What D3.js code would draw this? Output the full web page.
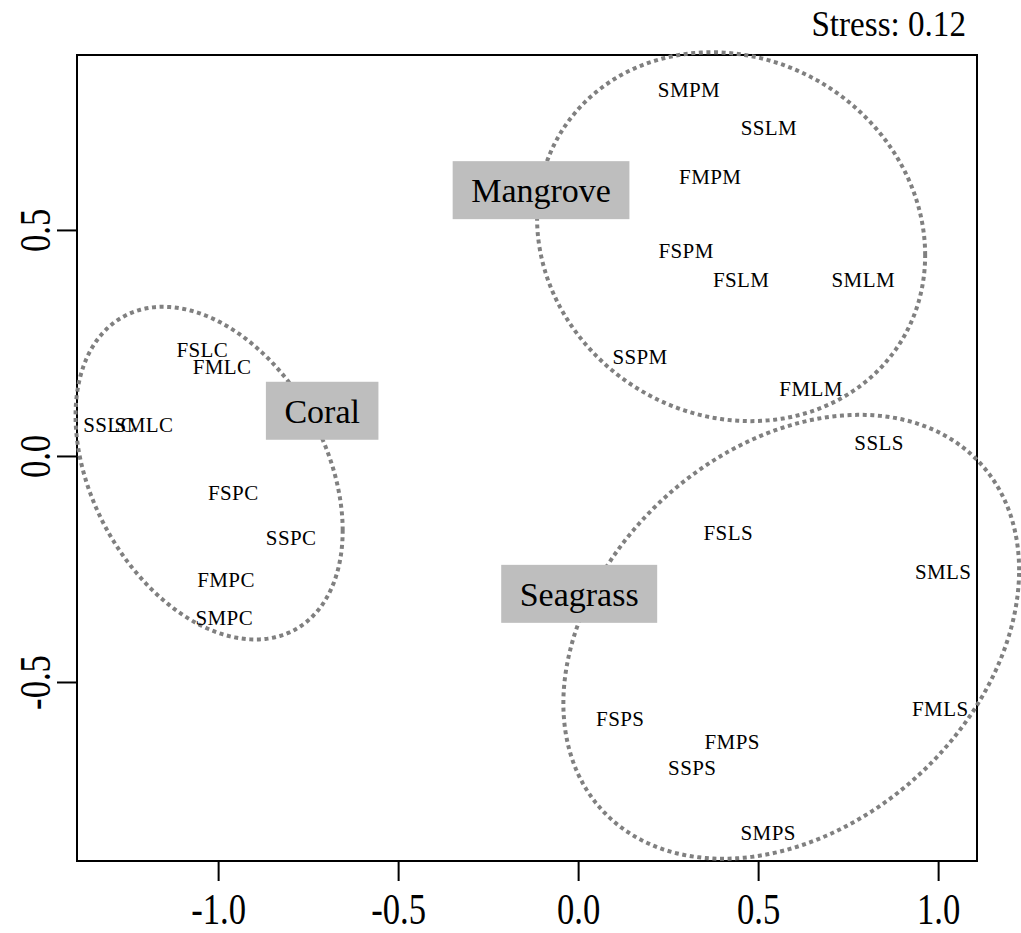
<!DOCTYPE html>
<html><head><meta charset="utf-8">
<script src="https://cdn.jsdelivr.net/npm/d3@7"></script>
<style>body{margin:0;background:#fff} svg{display:block}</style>
</head><body><svg id="c" width="1021" height="933"></svg>
<script>
// ---- data ----
const siteLabels = ["SMPM","SSLM","FMPM","FSPM","FSLM","SMLM","SSPM","FMLM",
                    "FSLC","FMLC","SSLC","SMLC","FSPC","SSPC","FMPC","SMPC",
                    "SSLS","FSLS","SMLS","FMLS","FSPS","FMPS","SSPS","SMPS"];
const nmds1 = [0.308,0.530,0.367,0.300,0.453,0.792,0.172,0.647,
               -1.044,-0.989,-1.303,-1.206,-0.958,-0.797,-0.978,-0.983,
               0.836,0.417,1.014,1.006,0.117,0.428,0.317,0.528];
const nmds2 = [0.810,0.726,0.617,0.454,0.389,0.389,0.219,0.150,
               0.235,0.197,0.069,0.069,-0.082,-0.181,-0.274,-0.358,
               0.029,-0.170,-0.256,-0.558,-0.580,-0.631,-0.690,-0.834];
const habitatNames = ["Mangrove","Coral","Seagrass"];
const habitatLabelX = [-0.103,-0.711,0.003];
const habitatLabelY = [0.588,0.100,-0.305];
// ellipse: centre, half-extent along each axis, and cos of phase shift (tilt)
const ellipseCX = [0.425,-1.025,0.592];
const ellipseCY = [0.485,-0.038,-0.400];
const ellipseRX = [0.539,0.371,0.633];
const ellipseRY = [0.408,0.368,0.491];
const ellipseTilt = [-0.10,-0.345,0.30];
const xTicks = [-1.0,-0.5,0.0,0.5,1.0];
const yTicks = [-0.5,0.0,0.5];
const stressLabel = "Stress: 0.12";

// ---- drawing ----
const svg = d3.select("#c");
const L=77, R=977, T=55, B=861;
const x = d3.scaleLinear().domain([-1.392,1.108]).range([L,R]);
const y = d3.scaleLinear().domain([-0.896,0.887]).range([B,T]);
const serif = "'Liberation Serif','Times New Roman',serif";

svg.append("rect").attr("x",L).attr("y",T).attr("width",R-L).attr("height",B-T)
  .attr("fill","none").attr("stroke","#000").attr("stroke-width",2);

// ellipses
const line = d3.line().x(d=>x(d[0])).y(d=>y(d[1])).curve(d3.curveLinearClosed);
habitatNames.forEach((h,i)=>{
  const del = Math.acos(ellipseTilt[i]);
  const pts = d3.range(0,360,1).map(a=>{
    const t = a*Math.PI/180;
    return [ellipseCX[i]+ellipseRX[i]*Math.cos(t), ellipseCY[i]+ellipseRY[i]*Math.cos(t-del)];
  });
  svg.append("path").attr("d",line(pts)).attr("fill","none")
    .attr("stroke","#808080").attr("stroke-width",4).attr("stroke-dasharray","4,3.6");
});

// site labels
svg.append("g").selectAll("text").data(siteLabels).join("text")
  .attr("x",(d,i)=>x(nmds1[i])).attr("y",(d,i)=>y(nmds2[i]))
  .attr("dy","0.35em").attr("text-anchor","middle").attr("letter-spacing",0.4)
  .attr("font-family",serif).attr("font-size",21).attr("fill","#000").text(d=>d);

// habitat boxed labels
habitatNames.forEach((h,i)=>{
  const g = svg.append("g");
  const cx = x(habitatLabelX[i]), cy = y(habitatLabelY[i]);
  const t = g.append("text").attr("x",cx).attr("y",cy).attr("dy","0.35em")
    .attr("text-anchor","middle").attr("font-family",serif).attr("font-size",34).text(h);
  const bb = t.node().getBBox();
  g.insert("rect","text").attr("x",bb.x-18.5).attr("y",cy-29)
    .attr("width",bb.width+37).attr("height",58).attr("fill","#bebebe");
});

// axes
const fmt = d=>d.toFixed(1);
const gx = svg.append("g").attr("transform",`translate(0,${B})`)
  .call(d3.axisBottom(x).tickValues(xTicks).tickSize(20).tickFormat(fmt));
gx.select(".domain").remove();
gx.selectAll(".tick line").attr("stroke","#000").attr("stroke-width",2);
gx.selectAll(".tick text").attr("y",63).attr("dy",0)
  .attr("font-family",serif).attr("font-size",45).attr("fill","#000")
  .attr("transform","scale(0.77,1)");

const gy = svg.append("g").attr("transform",`translate(${L},0)`)
  .call(d3.axisLeft(y).tickValues(yTicks).tickSize(20).tickFormat(fmt));
gy.select(".domain").remove();
gy.selectAll(".tick line").attr("stroke","#000").attr("stroke-width",2);
gy.selectAll(".tick text").attr("x",0).attr("y",-27).attr("dy",0)
  .attr("text-anchor","middle").attr("font-family",serif).attr("font-size",45).attr("fill","#000")
  .attr("transform","rotate(-90) scale(0.77,1)");

// stress
svg.append("text").attr("x",966/0.92).attr("y",36).attr("text-anchor","end")
  .attr("font-family",serif).attr("font-size",36).attr("transform","scale(0.92,1)")
  .text(stressLabel);
</script></body></html>
